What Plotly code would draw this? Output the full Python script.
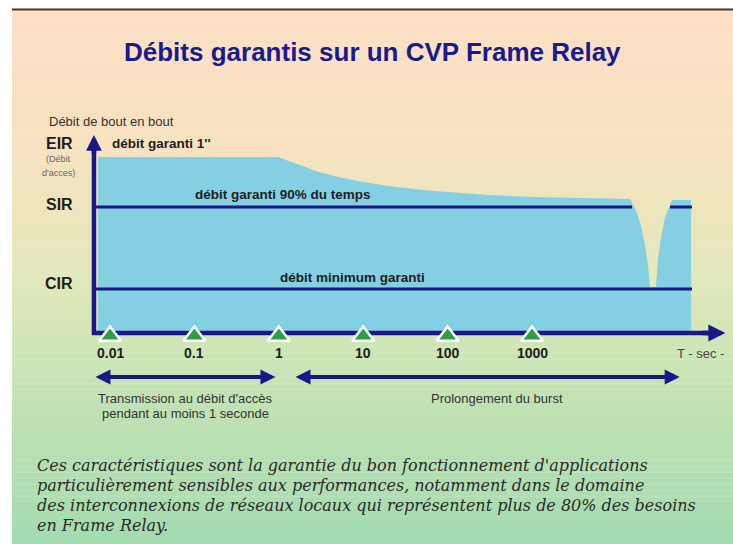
import math
import plotly.graph_objects as go

# ---------------- data ----------------
tick_times = [0.01, 0.1, 1, 10, 100, 1000]
tick_labels = ["0.01", "0.1", "1", "10", "100", "1000"]

level_names = ["EIR", "SIR", "CIR"]
level_rates = [176, 126, 44]          # relative throughput levels

# guaranteed throughput envelope (time in s, relative rate)
burst_t = [0.0072, 1, 1.3, 2, 3, 5, 10, 20, 50, 100, 300, 1000, 3000, 14000,
           14500, 17000, 19500, 21800, 23700, 25000, 29400, 31100, 33700,
           37600, 45600, 76600]
burst_rate = [176, 176, 172, 166, 161, 156, 151, 147, 143, 141, 138, 136, 135, 134,
              134, 123, 108, 88, 68, 46, 46, 73, 95, 115, 133, 133]

sir_t = [0.0066, 15300, None, 43200, 78700]
cir_t = [0.0066, 78700]

paragraph = [
    "Ces caractéristiques sont la garantie du bon fonctionnement d'applications",
    "particulièrement sensibles aux performances, notamment dans le domaine",
    "des interconnexions de réseaux locaux qui représentent plus de 80% des besoins",
    "en Frame Relay.",
]

# ---------------- geometry / styles ----------------
W, H = 733, 544
X_RANGE = [-3.3033, 5.3815]   # log10 seconds
Y_RANGE = [-211, 333]
NAVY = "#1b1787"
FILL = "#84cfe2"
TXT = "#1e1e1e"
SANS = "Liberation Sans, Arial, sans-serif"

def xp(px):
    return px / W

def yp(py):
    return 1 - py / H

def hexmix(c1, c2, f):
    a = [int(c1[i:i + 2], 16) for i in (1, 3, 5)]
    b = [int(c2[i:i + 2], 16) for i in (1, 3, 5)]
    return "#" + "".join("%02x" % round(a[k] + (b[k] - a[k]) * f) for k in range(3))

stops = [(9, "#fddfc4"), (150, "#f6e2c0"), (270, "#e4e8ba"), (390, "#c4e3b4"), (544, "#a3dbb0")]

def grad(py):
    for (p0, c0), (p1, c1) in zip(stops[:-1], stops[1:]):
        if p0 <= py <= p1:
            return hexmix(c0, c1, (py - p0) / (p1 - p0))
    return stops[-1][1]

shapes = []
N = 90
y0 = 9
for i in range(N):
    a = y0 + (H - y0) * i / N
    b = y0 + (H - y0) * (i + 1) / N
    shapes.append(dict(type="rect", xref="paper", yref="paper", x0=xp(12), x1=1.0,
                       y0=yp(b), y1=yp(a) + 0.0005, fillcolor=grad((a + b) / 2),
                       line=dict(width=0), layer="below"))
shapes.append(dict(type="line", xref="paper", yref="paper", x0=xp(12), x1=1.0,
                   y0=yp(9.5), y1=yp(9.5), line=dict(color="#3c3c3c", width=2), layer="below"))

fig = go.Figure()

# blue envelope
fig.add_trace(go.Scatter(x=burst_t, y=burst_rate, mode="lines", fill="tozeroy",
                         fillcolor=FILL, line=dict(width=0), hoverinfo="skip"))
# SIR and CIR lines
fig.add_trace(go.Scatter(x=sir_t, y=[level_rates[1] if t is not None else None for t in sir_t],
                         mode="lines", line=dict(color=NAVY, width=3), hoverinfo="skip",
                         connectgaps=False))
fig.add_trace(go.Scatter(x=cir_t, y=[level_rates[2]] * len(cir_t), mode="lines",
                         line=dict(color=NAVY, width=3), hoverinfo="skip"))

# axes
t_axis0 = 10 ** -2.19
t_axis_end = 10 ** 5.13
fig.add_trace(go.Scatter(x=[t_axis0, t_axis0], y=[-2, 186], mode="lines",
                         line=dict(color=NAVY, width=4.5), hoverinfo="skip"))
fig.add_trace(go.Scatter(x=[10 ** -2.21, t_axis_end], y=[0, 0], mode="lines",
                         line=dict(color=NAVY, width=4.5), hoverinfo="skip"))

# time markers
fig.add_trace(go.Scatter(x=tick_times, y=[-3] * len(tick_times), mode="markers",
                         marker=dict(symbol="triangle-up", size=19, color="#2f9f46",
                                     line=dict(color="white", width=2.5)),
                         hoverinfo="skip"))

ann = []

def txt(text, px, py, size, color=TXT, bold=False, anchor="center", family=SANS, italic=False):
    f = dict(family=family, size=size, color=color)
    if bold:
        f["weight"] = "bold"
    if italic:
        f["style"] = "italic"
    ann.append(dict(x=xp(px), y=yp(py), xref="paper", yref="paper", text=text,
                    xanchor=anchor, yanchor="middle", showarrow=False, font=f))

# axis arrow heads
ann.append(dict(x=math.log10(t_axis0), y=198, ax=math.log10(t_axis0), ay=178,
                xref="x", yref="y", axref="x", ayref="y", text="", showarrow=True,
                arrowhead=2, arrowsize=0.7, arrowwidth=4.5, arrowcolor=NAVY))
ann.append(dict(x=5.29, y=0, ax=5.0, ay=0, xref="x", yref="y", axref="x", ayref="y",
                text="", showarrow=True, arrowhead=2, arrowsize=0.75, arrowwidth=4.5,
                arrowcolor=NAVY))
# range arrows
for (l0, l1) in [(-2.19, -0.04), (0.18, 4.75)]:
    ann.append(dict(x=l1, y=-44, ax=l0, ay=-44, xref="x", yref="y", axref="x", ayref="y",
                    text="", showarrow=True, arrowhead=2, arrowside="end+start",
                    arrowsize=0.75, arrowwidth=4, arrowcolor=NAVY))

# tick labels
for t, lab in zip(tick_times, tick_labels):
    ann.append(dict(x=math.log10(t), y=-20, xref="x", yref="y", text=lab, showarrow=False,
                    xanchor="center", yanchor="middle",
                    font=dict(family=SANS, size=14, color=TXT, weight="bold")))
txt("T - sec -", 700, 353, 13, color="#444")

# level labels
shift = {"EIR": 14, "SIR": 3, "CIR": 6}
for name, r in zip(level_names, level_rates):
    ann.append(dict(x=xp(59), y=r, xref="paper", yref="y", yshift=shift[name], text=name,
                    xanchor="center", yanchor="middle", showarrow=False,
                    font=dict(family=SANS, size=16, color=TXT, weight="bold")))
txt("(Débit", 58, 159, 9, color="#666")
txt("d'acces)", 58, 173, 9, color="#666")

# in-chart texts
txt("débit garanti 1''", 110, 144, 13.5, bold=True, anchor="left")
txt("débit garanti 90% du temps", 193, 195, 13.5, bold=True, anchor="left")
txt("débit minimum garanti", 278, 277, 13.5, bold=True, anchor="left")

txt("Débit de bout en bout", 47, 122, 13, color="#333", anchor="left")

# title
txt("Débits garantis sur un CVP Frame Relay", 372, 52, 26, color="#1a1a8c", bold=True)

# range notes
txt("Transmission au débit d'accès", 185, 398, 13, color="#333")
txt("pendant au moins 1 seconde", 185, 413, 13, color="#333")
txt("Prolongement du burst", 497, 398, 13, color="#333")

# paragraph
for i, line in enumerate(paragraph):
    txt(line, 35, 465 + 20.3 * i, 16, color="#2a2a2a", anchor="left",
        family="DejaVu Serif, serif", italic=True)

fig.update_layout(
    width=W, height=H, margin=dict(l=0, r=0, t=0, b=0),
    paper_bgcolor="white", plot_bgcolor="white", showlegend=False,
    xaxis=dict(type="log", range=X_RANGE, visible=False, fixedrange=True),
    yaxis=dict(range=Y_RANGE, visible=False, fixedrange=True),
    shapes=shapes, annotations=ann,
)

fig.write_html("out.html", post_script="document.body.style.margin='0';",
               config={"displayModeBar": False})
